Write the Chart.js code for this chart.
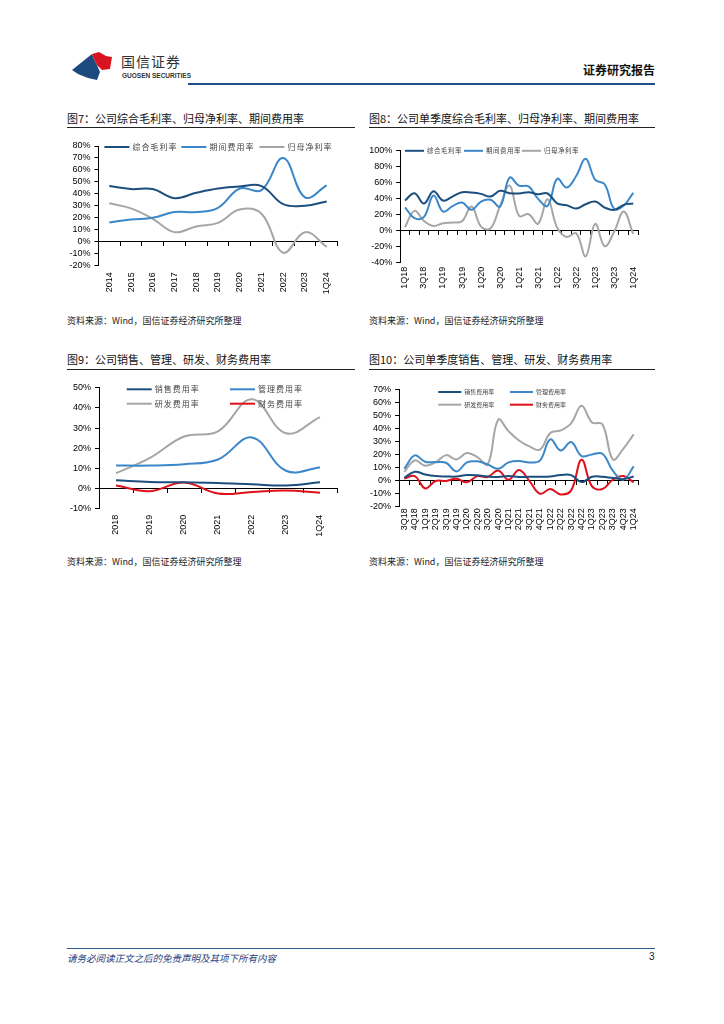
<!DOCTYPE html>
<html>
<head>
<meta charset="utf-8">
<script src="https://cdn.jsdelivr.net/npm/chart.js@4.4.1/dist/chart.umd.min.js"></script>
<style>
  body { margin: 0; background: #fff; }
  #page { position: relative; width: 724px; height: 1024px; overflow: hidden; font-family: "Noto Sans CJK SC", sans-serif; }
  .abs { position: absolute; white-space: nowrap; }
  .title { font-size: 11px; line-height: 16px; color: #111; }
  .rule { position: absolute; height: 1px; background: #222; }
  .src { font-size: 9px; line-height: 12px; color: #222; }
  canvas { position: absolute; }
</style>
</head>
<body>
<div id="page">
  <svg class="abs" style="left:66px;top:48px" width="50" height="40" viewBox="0 0 50 40">
    <polygon points="6,22 26,6 28,11 31,17 34,24 31,32 22,30 12,26" fill="#1d4a7e"/>
    <polygon points="26,6 33,4 40,8 46,9 44,21 36,22 31,17 28,11" fill="#d7141f"/>
  </svg>
  <div class="abs" style="left:121px;top:51px;font-size:14px;letter-spacing:1px;color:#333;">国信证券</div>
  <div class="abs" style="left:122px;top:72px;font:bold 6.5px 'Liberation Sans';color:#333;">GUOSEN SECURITIES</div>
  <div class="abs" style="right:69px;top:61px;font-size:12px;font-weight:bold;color:#111;">证券研究报告</div>
  <div class="abs" style="left:188px;top:83px;width:467px;height:2px;background:#1f4e8a;"></div>

  <div class="abs title" style="left:67px;top:110px;">图7：公司综合毛利率、归母净利率、期间费用率</div>
  <div class="rule" style="left:67px;top:127px;width:288px;"></div>
  <div class="abs title" style="left:369px;top:110px;">图8：公司单季度综合毛利率、归母净利率、期间费用率</div>
  <div class="rule" style="left:369px;top:127px;width:286px;"></div>
  <div class="abs src" style="left:67px;top:315px;">资料来源：Wind，国信证券经济研究所整理</div>
  <div class="abs src" style="left:369px;top:315px;">资料来源：Wind，国信证券经济研究所整理</div>

  <div class="abs title" style="left:67px;top:351px;">图9：公司销售、管理、研发、财务费用率</div>
  <div class="rule" style="left:67px;top:369px;width:288px;"></div>
  <div class="abs title" style="left:369px;top:351px;">图10：公司单季度销售、管理、研发、财务费用率</div>
  <div class="rule" style="left:369px;top:369px;width:286px;"></div>
  <div class="abs src" style="left:67px;top:556px;">资料来源：Wind，国信证券经济研究所整理</div>
  <div class="abs src" style="left:369px;top:556px;">资料来源：Wind，国信证券经济研究所整理</div>

  <div class="abs" style="left:67px;top:948px;width:588px;height:1px;background:#2e5a8c;"></div>
  <div class="abs" style="left:67px;top:951px;font-size:9.5px;font-style:italic;color:#1f3e7c;">请务必阅读正文之后的免责声明及其项下所有内容</div>
  <div class="abs" style="left:649px;top:951px;font:10px 'Liberation Sans';color:#222;">3</div>

  <canvas id="c7" width="290" height="170" style="left:60px;top:135px"></canvas>
  <canvas id="c8" width="290" height="170" style="left:362px;top:135px"></canvas>
  <canvas id="c9" width="290" height="170" style="left:60px;top:375px"></canvas>
  <canvas id="c10" width="290" height="170" style="left:362px;top:375px"></canvas>
</div>
<script>
// chart 7: annual
const years7 = ['2014', '2015', '2016', '2017', '2018', '2019', '2020', '2021', '2022', '2023', '1Q24'];
const gross7 = [46.4, 43.9, 43.9, 36.3, 40.8, 44.4, 46.1, 46.4, 31.3, 29.9, 33.5];
const expense7 = [15.9, 18.4, 19.8, 24.6, 24.6, 28.2, 44.4, 43, 70, 37, 46.9];
const net7 = [32, 27.7, 19, 7.8, 12.6, 15.6, 26.8, 23.2, -9.5, 7.8, -4.5];

// chart 8: quarterly
const quarters8 = ['1Q18', '2Q18', '3Q18', '4Q18', '1Q19', '2Q19', '3Q19', '4Q19', '1Q20', '2Q20', '3Q20', '4Q20',
  '1Q21', '2Q21', '3Q21', '4Q21', '1Q22', '2Q22', '3Q22', '4Q22', '1Q23', '2Q23', '3Q23', '4Q23', '1Q24'];
const gross8 = [37.4, 46.6, 33.7, 49, 37.4, 42.4, 47.8, 47.4, 45.7, 42.4, 49.5, 46.6, 46.2, 47.8, 45.3, 46.2, 34, 31.6, 27.4, 32.8, 36.2, 28.7, 25.8, 32, 33.7];
const expense8 = [29, 15.4, 17, 43.7, 23.7, 30.4, 35, 25.8, 36.2, 38.3, 30, 66, 56, 55, 39.5, 30.8, 64.5, 53.6, 68, 89.4, 63.2, 57.8, 27, 31.2, 47];
const net8 = [4.2, 24.5, 12, 5.8, 9.1, 10, 11.6, 30, 5, 2.9, 30.8, 56, 18.3, 20.4, 8.7, 39, 3.7, -7.9, -3.3, -32, 8.3, -19.5, -1.2, 23.7, -4.2];

// chart 9: annual expense breakdown
const years9 = ['2018', '2019', '2020', '2021', '2022', '2023', '1Q24'];
const sales9 = [4.1, 3.3, 3.1, 2.8, 2.1, 1.5, 3.1];
const admin9 = [11.4, 11.4, 12.1, 14.4, 25.3, 8.8, 10.4];
const rd9 = [7.6, 15.2, 25.8, 28.4, 44.3, 27.4, 35.4];
const fin9 = [1.5, -1.3, 3, -2.5, -1.7, -1, -2.1];

// chart 10: quarterly expense breakdown
const quarters10 = ['3Q18', '4Q18', '1Q19', '2Q19', '3Q19', '4Q19', '1Q20', '2Q20', '3Q20', '4Q20', '1Q21', '2Q21',
  '3Q21', '4Q21', '1Q22', '2Q22', '3Q22', '4Q22', '1Q23', '2Q23', '3Q23', '4Q23', '1Q24'];
const sales10 = [2, 6.7, 4.6, 3.3, 3, 3, 4.1, 3.9, 3, 2.6, 3.3, 2.6, 2.8, 2.8, 3, 4.1, 4.1, -1.3, 2.8, 2.8, 1.8, 1, 3];
const admin10 = [9, 19.3, 14.4, 14.1, 13.6, 6.9, 13.9, 14.7, 12.3, 9, 13.9, 14.9, 13.9, 15.2, 31.6, 23.1, 29.6, 18.8, 20, 20.6, 7.5, 0.5, 10.8];
const rd10 = [6.7, 15.4, 11.3, 13.9, 19.5, 16.2, 21.1, 18, 12.3, 46.8, 38, 30.8, 26.2, 23.7, 36.5, 38.6, 44, 57.6, 44.7, 43.4, 16.2, 24.4, 35.5];
const fin10 = [1.5, 3.3, -6.2, -0.5, -0.5, 1.3, -1.5, 3.3, 2.6, 7.7, 0.5, 8, -0.5, -10.3, -6.7, -10.8, -7.7, 15.9, -4.6, -6.7, 0.5, 3.3, -1.5];

const NAVY = '#1d4f7e', BLUE = '#3b87c9', GRAY = '#a6a6a6', RED = '#e0101a';

Chart.defaults.font.family = '"Liberation Sans", Arial, sans-serif';
Chart.defaults.font.size = 9;
Chart.defaults.color = '#000';

// legend drawn as short line + label, placed relative to the plot area
const lineLegend = {
    id: 'lineLegend',
    afterDraw(chart, args, opts) {
        const ctx = chart.ctx, area = chart.chartArea;
        ctx.save();
        ctx.font = opts.font + 'px "Noto Sans CJK SC"';
        if ('letterSpacing' in ctx) ctx.letterSpacing = opts.spacing + 'px';
        ctx.textBaseline = 'middle';
        chart.data.datasets.forEach((ds, i) => {
            const p = opts.items[i];
            const x = area.left + p[0], y = area.top + p[1];
            ctx.strokeStyle = ds.borderColor;
            ctx.lineWidth = 2;
            ctx.beginPath();
            ctx.moveTo(x, y);
            ctx.lineTo(x + opts.line, y);
            ctx.stroke();
            ctx.fillStyle = '#444';
            ctx.fillText(ds.label, x + opts.line + 3, y);
        });
        ctx.restore();
    }
};

function series(label, data, color) {
    return { label: label, data: data, borderColor: color, backgroundColor: color, borderWidth: 2, pointRadius: 0, tension: 0.4, fill: false };
}

function makeChart(id, labels, datasets, y, pad, xHeight, xPad, legend, everyOther) {
    return new Chart(document.getElementById(id), {
        type: 'line',
        data: { labels: labels, datasets: datasets },
        plugins: [lineLegend],
        options: {
            responsive: false,
            animation: false,
            events: [],
            layout: { padding: pad },
            plugins: {
                legend: { display: false },
                tooltip: { enabled: false },
                lineLegend: legend
            },
            scales: {
                x: {
                    offset: true,
                    border: { display: false },
                    grid: { display: false, drawTicks: false },
                    ticks: {
                        autoSkip: false, maxRotation: 90, minRotation: 90, padding: xPad,
                        callback: (v, i) => (everyOther && i % 2 === 1) ? '' : labels[i]
                    },
                    afterFit: s => { s.height = xHeight; }
                },
                x0: {
                    axis: 'x',
                    type: 'category',
                    position: { y: 0 },
                    offset: true,
                    border: { display: true, color: '#000', width: 1 },
                    grid: { offset: true, drawOnChartArea: false, drawTicks: true, tickLength: 4, color: '#000' },
                    ticks: { display: false },
                    afterFit: s => { s.height = 0; }
                },
                y: {
                    min: y[0], max: y[1],
                    border: { display: true, color: '#000', width: 1 },
                    grid: { drawOnChartArea: false, drawTicks: true, tickLength: 4, color: '#000' },
                    ticks: { stepSize: y[2], autoSkip: false, padding: 4, callback: v => v + '%' },
                    afterFit: s => { s.width = 36; }
                }
            }
        }
    });
}

makeChart('c7', years7, [
    series('综合毛利率', gross7, NAVY),
    series('期间费用率', expense7, BLUE),
    series('归母净利率', net7, GRAY)
], [-20, 80, 10], { left: 2.4, top: 11, right: 12.4, bottom: 0 }, 39.7, 7,
    { line: 25, font: 8, spacing: 1, items: [[6, 1], [83, 1], [161, 1]] }, false);

makeChart('c8', quarters8, [
    series('综合毛利率', gross8, NAVY),
    series('期间费用率', expense8, BLUE),
    series('归母净利率', net8, GRAY)
], [-40, 100, 20], { left: 2.2, top: 15.3, right: 14, bottom: 0 }, 42.3, 4,
    { line: 19, font: 6.5, spacing: 0.5, items: [[4.8, 0.5], [63.8, 0.5], [121.8, 0.5]] }, true);

makeChart('c9', years9, [
    series('销售费用率', sales9, NAVY),
    series('管理费用率', admin9, BLUE),
    series('研发费用率', rd9, GRAY),
    series('财务费用率', fin9, RED)
], [-10, 50, 10], { left: 3, top: 12.7, right: 13, bottom: 0 }, 36.3, 6,
    { line: 25, font: 8, spacing: 1, items: [[27.7, 1.6], [131, 1.6], [27.7, 16], [131, 16]] }, false);

makeChart('c10', quarters10, [
    series('销售费用率', sales10, NAVY),
    series('管理费用率', admin10, BLUE),
    series('研发费用率', rd10, GRAY),
    series('财务费用率', fin10, RED)
], [-20, 70, 10], { left: 1.1, top: 14.7, right: 13.1, bottom: 0 }, 38.7, 2,
    { line: 23, font: 6, spacing: 0, items: [[39.2, 2.3], [110.9, 2.3], [39.2, 15], [110.9, 15]] }, false);
</script>
</body>
</html>
